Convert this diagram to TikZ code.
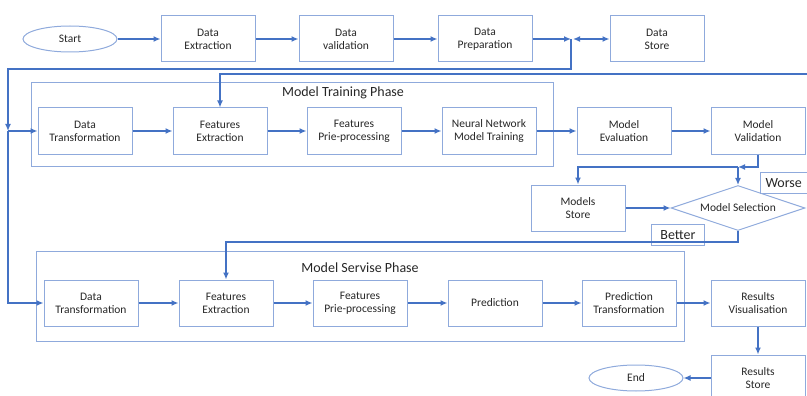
\documentclass[tikz,border=0pt]{standalone}
\usepackage{fontspec}
\setmainfont{Carlito}
\usetikzlibrary{arrows.meta,shapes.geometric}
\definecolor{boxblue}{HTML}{8FAADC}
\definecolor{arrblue}{HTML}{4472C4}
\definecolor{txt}{HTML}{262626}
\tikzset{
  stepbox/.style={draw=boxblue,line width=1pt,rectangle,minimum width=94pt,minimum height=46pt,align=center,text=txt,font=\fontsize{11.5}{13}\selectfont,inner sep=1pt},
  term/.style={draw=boxblue,line width=1pt,ellipse,minimum width=94pt,minimum height=26pt,text=txt,font=\fontsize{11.5}{13}\selectfont},
  phase/.style={draw=boxblue,line width=1pt},
  phasetitle/.style={text=txt,font=\fontsize{14}{16}\selectfont,inner sep=0pt},
  lbl/.style={draw=boxblue,line width=1pt,rectangle,text=txt,font=\fontsize{14}{16}\selectfont,minimum height=21pt,inner sep=2pt},
  conn/.style={draw=arrblue,line width=1.3pt,-{Latex[length=7pt,width=6pt]}},
  line/.style={draw=arrblue,line width=1.3pt},
}
\begin{document}
\begin{tikzpicture}[x=1pt,y=-1pt]
\useasboundingbox (0,0) rectangle (807,396);
% phases
\draw[phase] (31,83) rectangle (553,166);
\node[phasetitle] (t1) at (343,93) {Model Training Phase};
\draw[phase] (36,251) rectangle (684,341);
\node[phasetitle] (t2) at (360,268) {Model Servise Phase};
% top row
\node[term] (start) at (70,39) {Start};
\node[stepbox] (dex) at (208,39) {Data\\Extraction};
\node[stepbox] (dval) at (346,39) {Data\\validation};
\node[stepbox] (dprep) at (485,39) {Data\\Preparation};
\node[stepbox] (dstore) at (657,39) {Data\\Store};
\coordinate (j1) at (571,39);
% training row
\node[stepbox] (dt1) at (85,131) {Data\\Transformation};
\node[stepbox] (fe1) at (220,131) {Features\\Extraction};
\node[stepbox] (fp1) at (354,131) {Features\\Prie-processing};
\node[stepbox] (nn) at (489,131) {Neural Network\\Model Training};
\node[stepbox] (me) at (624,131) {Model\\Evaluation};
\node[stepbox] (mv) at (758,131) {Model\\Validation};
% selection
\node[stepbox] (ms) at (578,208) {Models\\Store};
\node[draw=boxblue,line width=1pt,diamond,aspect=3,minimum width=134pt,minimum height=45pt,inner sep=0pt,text=txt,font=\fontsize{11.5}{13}\selectfont] (sel) at (738,208) {Model Selection};
\node[lbl,minimum width=53pt] (better) at (678,235) {Better};
\node[lbl,anchor=west,text width=50pt,inner xsep=5pt,align=left] (worse) at (760,183) {Worse};
% service row
\node[stepbox] (dt2) at (91,303) {Data\\Transformation};
\node[stepbox] (fe2) at (226,303) {Features\\Extraction};
\node[stepbox] (fp2) at (360,303) {Features\\Prie-processing};
\node[stepbox] (pr) at (495,303) {Prediction};
\node[stepbox] (pt) at (629,303) {Prediction\\Transformation};
\node[stepbox] (rv) at (758,303) {Results\\Visualisation};
\node[stepbox] (rs) at (758,378) {Results\\Store};
\node[term] (end) at (636,378) {End};
% coordinates
\coordinate (j2) at (8,131);
\coordinate (j2a) at (8,123);
\coordinate (j3) at (738,167);
\coordinate (wr) at (815,74);
% connectors
\draw[conn] (start) -- (dex);
\draw[conn] (dex) -- (dval);
\draw[conn] (dval) -- (dprep);
\draw[conn] (dprep) -- (j1);
\draw[line,{Latex[length=7pt,width=6pt]}-{Latex[length=7pt,width=6pt]}] ([xshift=2pt]j1) -- (dstore);
\draw[line] (j1) -- ++(0,30) -| (j2a);
\draw[conn] (j2a) -- (j2);
\draw[conn] (j2) -- (dt1);
\draw[conn] (j2) |- (dt2);
\draw[conn] (wr) -| (fe1);
\draw[conn] (dt1) -- (fe1);
\draw[conn] (fe1) -- (fp1);
\draw[conn] (fp1) -- (nn);
\draw[conn] (nn) -- (me);
\draw[conn] (me) -- (mv);
\draw[conn] (mv) |- (j3);
\draw[conn] (j3) -| (ms);
\draw[conn] (j3) -- (sel);
\draw[conn] (ms) -- (sel);
\draw[conn] (sel.south) -- ++(0,11) -| (fe2);
\draw[conn] (dt2) -- (fe2);
\draw[conn] (fe2) -- (fp2);
\draw[conn] (fp2) -- (pr);
\draw[conn] (pr) -- (pt);
\draw[conn] (pt) -- (rv);
\draw[conn] (rv) -- (rs);
\draw[conn] (rs) -- (end);
\end{tikzpicture}
\end{document}
